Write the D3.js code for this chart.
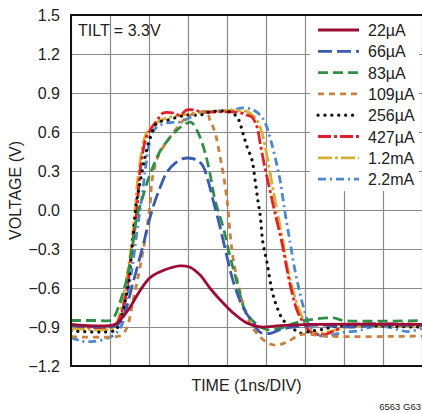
<!DOCTYPE html>
<html><head><meta charset="utf-8">
<script src="https://cdn.jsdelivr.net/npm/d3@7"></script>
<style>
body{margin:0;background:#fff}
text{font-family:"Liberation Sans",Arial,Helvetica,sans-serif;fill:#222}
</style>
</head><body>
<svg id="c" width="422" height="413"></svg>
<script>
// ---- data (time in ns, voltage in V) ----
const seriesNames = ["22µA","66µA","83µA","109µA","256µA","427µA","1.2mA","2.2mA"];
const yTicks = [-1.2,-0.9,-0.6,-0.3,0.0,0.3,0.6,0.9,1.2,1.5];
const xTicks = [0,1,2,3,4,5,6,7,8,9];

const s22 = [[0,-0.88],[1.13,-0.88],[1.31,-0.83],[1.51,-0.75],[1.77,-0.62],[2.03,-0.52],[2.41,-0.46],[2.79,-0.43],[3.05,-0.44],[3.31,-0.50],[3.56,-0.60],[3.82,-0.69],[4.15,-0.79],[4.51,-0.87],[4.85,-0.90],[5.36,-0.89],[6.13,-0.88],[9,-0.88]];
const s66 = [[0,-0.89],[1.15,-0.89],[1.26,-0.86],[1.38,-0.79],[1.59,-0.56],[1.85,-0.27],[2.08,0.0],[2.28,0.17],[2.46,0.29],[2.67,0.36],[2.87,0.395],[3.0,0.40],[3.23,0.385],[3.38,0.34],[3.51,0.23],[3.64,0.08],[3.82,-0.13],[4.0,-0.36],[4.15,-0.54],[4.41,-0.75],[4.67,-0.87],[4.85,-0.94],[5.1,-0.95],[5.36,-0.92],[5.69,-0.90],[6.38,-0.885],[7.15,-0.90],[7.9,-0.885],[9,-0.89]];
const s83 = [[0,-0.85],[0.74,-0.85],[1.0,-0.85],[1.13,-0.81],[1.21,-0.75],[1.44,-0.52],[1.59,-0.25],[1.69,-0.05],[1.82,0.08],[1.95,0.21],[2.10,0.33],[2.28,0.45],[2.49,0.54],[2.72,0.615],[2.92,0.66],[3.08,0.675],[3.18,0.64],[3.31,0.56],[3.44,0.44],[3.56,0.285],[3.69,0.08],[3.90,-0.13],[4.08,-0.36],[4.26,-0.56],[4.46,-0.77],[4.72,-0.87],[5.03,-0.92],[5.36,-0.91],[5.74,-0.87],[6.0,-0.85],[6.72,-0.83],[7.0,-0.85],[9,-0.85]];
const s109 = [[0,-0.975],[1.13,-0.975],[1.31,-0.96],[1.44,-0.9],[1.59,-0.70],[1.77,-0.44],[1.95,-0.13],[2.03,0.05],[2.08,0.23],[2.23,0.41],[2.49,0.54],[2.74,0.64],[2.97,0.715],[3.23,0.746],[3.49,0.754],[3.56,0.69],[3.64,0.64],[3.74,0.54],[3.82,0.41],[3.90,0.285],[4.0,0.08],[4.08,-0.18],[4.15,-0.36],[4.28,-0.56],[4.41,-0.72],[4.59,-0.87],[4.77,-0.95],[5.03,-1.02],[5.28,-1.04],[5.54,-1.015],[5.87,-0.96],[6.08,-0.955],[6.5,-0.97],[9,-0.97]];
const s256 = [[0,-0.93],[1.1,-0.93],[1.2,-0.9],[1.31,-0.8],[1.46,-0.59],[1.56,-0.31],[1.64,-0.05],[1.69,0.08],[1.77,0.21],[1.90,0.41],[2.03,0.56],[2.21,0.67],[2.46,0.69],[2.74,0.715],[2.97,0.73],[3.31,0.73],[3.56,0.754],[4.08,0.754],[4.26,0.715],[4.33,0.67],[4.41,0.59],[4.51,0.49],[4.64,0.385],[4.72,0.23],[4.79,0.077],[4.85,-0.04],[4.92,-0.25],[5.03,-0.41],[5.15,-0.615],[5.28,-0.746],[5.44,-0.846],[5.67,-0.908],[5.82,-0.938],[5.87,-0.946],[6.2,-0.93],[6.51,-0.915],[6.69,-0.9],[7.08,-0.89],[8.87,-0.9],[9,-0.9]];
const s427 = [[0,-0.89],[1.13,-0.89],[1.26,-0.82],[1.44,-0.6],[1.56,-0.3],[1.69,0.0],[1.77,0.3],[1.92,0.55],[2.03,0.615],[2.21,0.69],[2.36,0.746],[2.62,0.746],[2.79,0.73],[2.97,0.77],[3.13,0.77],[3.38,0.755],[4.0,0.755],[4.33,0.75],[4.51,0.73],[4.64,0.715],[4.77,0.638],[4.85,0.515],[4.97,0.33],[5.10,0.154],[5.23,-0.023],[5.41,-0.254],[5.54,-0.46],[5.67,-0.64],[5.82,-0.79],[6.0,-0.885],[6.15,-0.94],[6.46,-0.96],[6.82,-0.92],[7.1,-0.885],[9,-0.88]];
const s1200 = [[0,-0.91],[1.08,-0.91],[1.2,-0.85],[1.38,-0.6],[1.54,-0.3],[1.64,0.0],[1.74,0.3],[1.95,0.6],[2.23,0.677],[2.54,0.715],[2.87,0.73],[3.3,0.75],[3.9,0.765],[4.3,0.765],[4.54,0.754],[4.77,0.69],[4.90,0.59],[5.03,0.41],[5.15,0.21],[5.28,0.0],[5.44,-0.254],[5.56,-0.46],[5.74,-0.67],[5.92,-0.82],[6.08,-0.92],[6.3,-0.95],[6.7,-0.93],[7.1,-0.9],[9,-0.9]];
const s2200 = [[0,-0.98],[0.3,-1.01],[0.6,-1.01],[0.95,-0.985],[1.15,-0.95],[1.31,-0.88],[1.38,-0.77],[1.51,-0.55],[1.59,-0.4],[1.72,-0.1],[1.82,0.1],[1.9,0.3],[2.0,0.5],[2.10,0.6],[2.21,0.64],[2.46,0.67],[2.79,0.677],[3.05,0.71],[3.31,0.746],[4.15,0.77],[4.41,0.785],[4.67,0.77],[4.85,0.73],[4.97,0.677],[5.10,0.56],[5.23,0.41],[5.36,0.23],[5.49,-0.023],[5.62,-0.254],[5.74,-0.46],[5.87,-0.64],[6.0,-0.79],[6.13,-0.9],[6.46,-0.975],[6.72,-0.96],[7.0,-0.94],[7.36,-0.93],[7.69,-0.9],[8.13,-0.9],[8.62,-0.935],[9,-0.91]];

const seriesData = [s22,s66,s83,s109,s256,s427,s1200,s2200];
const colors = ["#9c0c34","#3a5bb0","#2f8f46","#c8813f","#111111","#e3202a","#d6b033","#4d88cc"];
const dashes = ["none","14 5","10 5","6 5","0.1 6.8","13 3 3 3","14 3 3 3","8 4 2 4"];
const caps = ["butt","butt","butt","butt","round","butt","butt","butt"];

// ---- layout ----
const L=71, T=15, R=422, B=366;
const svg = d3.select("#c");
const x = d3.scaleLinear().domain([0,9]).range([L,R]);
const y = d3.scaleLinear().domain([-1.2,1.5]).range([B,T]);

// grid
const gx = svg.append("g").attr("transform",`translate(0,${B})`)
  .call(d3.axisBottom(x).tickValues(xTicks).tickSize(-(B-T)).tickFormat(""));
gx.select(".domain").remove();
gx.selectAll("line").attr("stroke","#8a8a8a").attr("stroke-width",1.2);

const gy = svg.append("g").attr("transform",`translate(${L},0)`)
  .call(d3.axisLeft(y).tickValues(yTicks).tickSize(-(R-L)).tickPadding(11).tickFormat(d3.format(".1f")));
gy.select(".domain").remove();
gy.selectAll("line").attr("stroke","#8a8a8a").attr("stroke-width",1.2);
gy.selectAll("text").attr("font-size",16).attr("fill","#222")
  .style("font-family",'"Liberation Sans",Arial,sans-serif');

// clip
svg.append("clipPath").attr("id","clip").append("rect")
  .attr("x",L).attr("y",T).attr("width",R-L).attr("height",B-T);

const line = d3.line().x(d=>x(d[0])).y(d=>y(d[1])).curve(d3.curveCatmullRom.alpha(0.5));
const order = [7,6,5,4,3,2,1,0];
const gc = svg.append("g").attr("clip-path","url(#clip)");
order.forEach(i=>{
  gc.append("path").datum(seriesData[i]).attr("d",line)
    .attr("fill","none").attr("stroke",colors[i]).attr("stroke-width",i===4?3.2:2.8)
    .attr("stroke-dasharray",dashes[i]).attr("stroke-linecap",caps[i]).attr("stroke-linejoin","round");
});

// legend
svg.append("rect").attr("x",310).attr("y",16).attr("width",109).attr("height",175).attr("fill","#fff");
const lg = svg.append("g");
seriesNames.forEach((n,i)=>{
  const yy = 30 + i*21.3;
  lg.append("line").attr("x1",318).attr("x2",359).attr("y1",yy).attr("y2",yy)
    .attr("stroke",colors[i]).attr("stroke-width",i===4?3.2:2.8)
    .attr("stroke-dasharray",dashes[i]).attr("stroke-linecap",caps[i]);
  lg.append("text").attr("x",368).attr("y",yy+6).attr("font-size",16).text(n);
});

// frame
svg.append("path").attr("d",`M${R},${T}H${L}V${B}H${R}`).attr("fill","none")
  .attr("stroke","#111").attr("stroke-width",2);

// texts
svg.append("text").attr("x",78).attr("y",36).attr("font-size",16).text("TILT = 3.3V");
svg.append("text").attr("x",(L+R)/2).attr("y",391).attr("text-anchor","middle").attr("font-size",16).text("TIME (1ns/DIV)");
svg.append("text").attr("transform",`translate(21,${(T+B)/2}) rotate(-90)`).attr("text-anchor","middle").attr("font-size",16).text("VOLTAGE (V)");
svg.append("text").attr("x",421).attr("y",410).attr("text-anchor","end").attr("font-size",9.5).text("6563 G63");
</script>
</body></html>
